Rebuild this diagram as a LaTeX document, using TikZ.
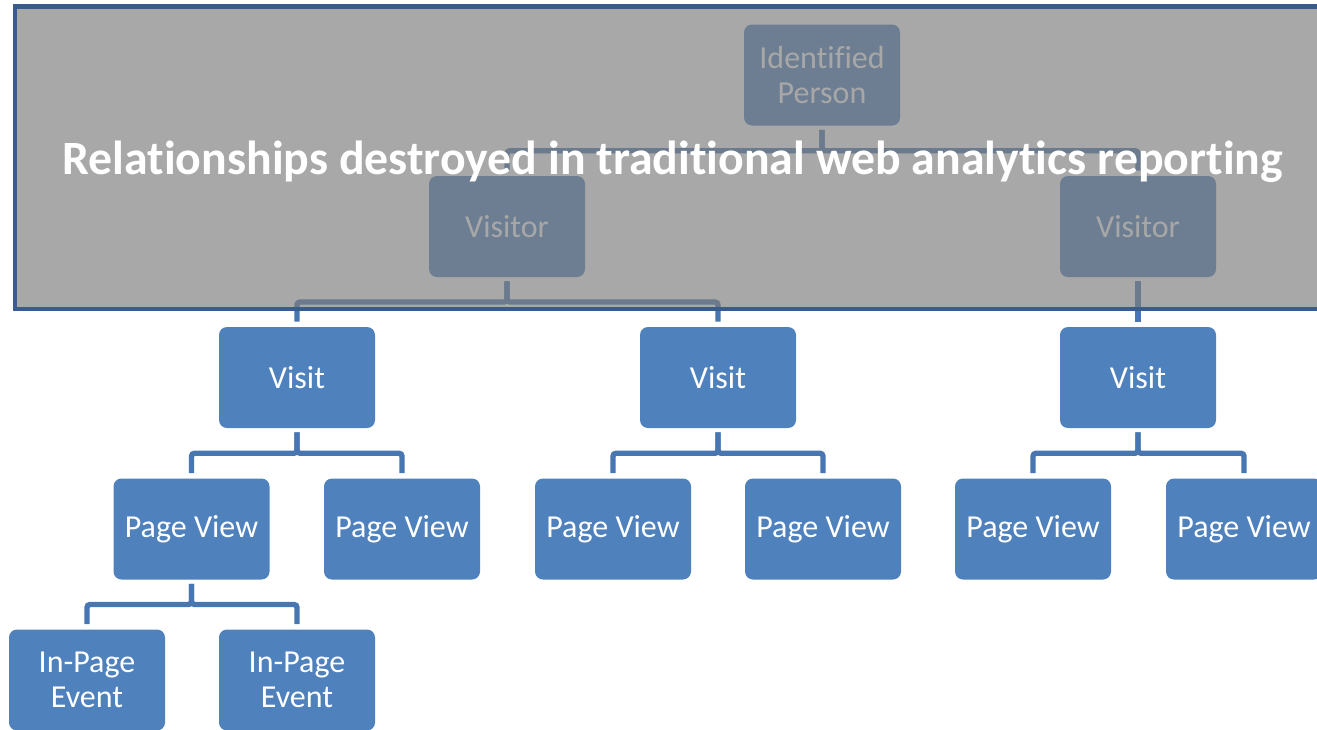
\documentclass[tikz,border=0pt]{standalone}
\usepackage{fontspec}
\setmainfont{Carlito}[Ligatures=NoCommon, RawFeature={-liga;-clig;-calt}]
\usepackage{tikz}
\usetikzlibrary{positioning,calc}

\definecolor{boxblue}{RGB}{79,129,189}
\definecolor{linkblue}{RGB}{72,118,176}
\definecolor{veilgray}{RGB}{125,125,125}
\definecolor{veilrim}{RGB}{56,93,138}

\begin{document}
\begin{tikzpicture}[x=0.5pt, y=-0.5pt,
  every node/.style={font=\fontsize{16}{17.5}\selectfont},
  unit/.style={fill=boxblue, text=white, rounded corners=4pt, inner sep=0pt,
    minimum width=78pt, minimum height=50.5pt, align=center},
  link/.style={draw=linkblue, line width=2.7pt, rounded corners=1.5pt,
    shorten <=2pt, shorten >=2.5pt}]
\useasboundingbox (0,0) rectangle (1317,729);
\clip (0,0) rectangle (1317,729);

% hierarchy
\node[unit] (ip) at (822,75) {Identified\\Person};
\node[unit] (vr1) at (507,226.5) {Visitor};
\node[unit] (vr2) at (1138,226.5) {Visitor};
\node[unit] (vt1) at (297,377.5) {Visit};
\node[unit] (vt2) at (718,377.5) {Visit};
\node[unit] (vt3) at (1138,377.5) {Visit};
\node[unit] (pv1) at (191.5,529) {Page View};
\node[unit] (pv2) at (402,529) {Page View};
\node[unit] (pv3) at (613,529) {Page View};
\node[unit] (pv4) at (823,529) {Page View};
\node[unit] (pv5) at (1033,529) {Page View};
\node[unit] (pv6) at (1244,529) {Page View};
\node[unit] (ev1) at (87,680) {In-Page\\Event};
\node[unit] (ev2) at (297,680) {In-Page\\Event};

% elbow connectors
\draw[link] (ip.south) |- ($(ip.south)!.5!(vr1.north)$) -| (vr1.north);
\draw[link] (ip.south) |- ($(ip.south)!.5!(vr2.north)$) -| (vr2.north);
\draw[link] (vr1.south) |- ($(vr1.south)!.5!(vt1.north)$) -| (vt1.north);
\draw[link] (vr1.south) |- ($(vr1.south)!.5!(vt2.north)$) -| (vt2.north);
\draw[link] (vr2.south) -- (vt3.north);
\draw[link] (vt1.south) |- ($(vt1.south)!.5!(pv1.north)$) -| (pv1.north);
\draw[link] (vt1.south) |- ($(vt1.south)!.5!(pv2.north)$) -| (pv2.north);
\draw[link] (vt2.south) |- ($(vt2.south)!.5!(pv3.north)$) -| (pv3.north);
\draw[link] (vt2.south) |- ($(vt2.south)!.5!(pv4.north)$) -| (pv4.north);
\draw[link] (vt3.south) |- ($(vt3.south)!.5!(pv5.north)$) -| (pv5.north);
\draw[link] (vt3.south) |- ($(vt3.south)!.5!(pv6.north)$) -| (pv6.north);
\draw[link] (pv1.south) |- ($(pv1.south)!.5!(ev1.north)$) -| (ev1.north);
\draw[link] (pv1.south) |- ($(pv1.south)!.5!(ev2.north)$) -| (ev2.north);

% grey veil over the upper levels
\filldraw[fill=veilgray, fill opacity=0.67, draw=veilrim, line width=2.4pt]
  (15,6.5) rectangle (1345,309);
\node[anchor=base, text=white, font=\fontsize{23.9}{28}\selectfont\bfseries]
  (title) at (672.5,174) {Relationships destroyed in traditional web analytics reporting};
\end{tikzpicture}
\end{document}
